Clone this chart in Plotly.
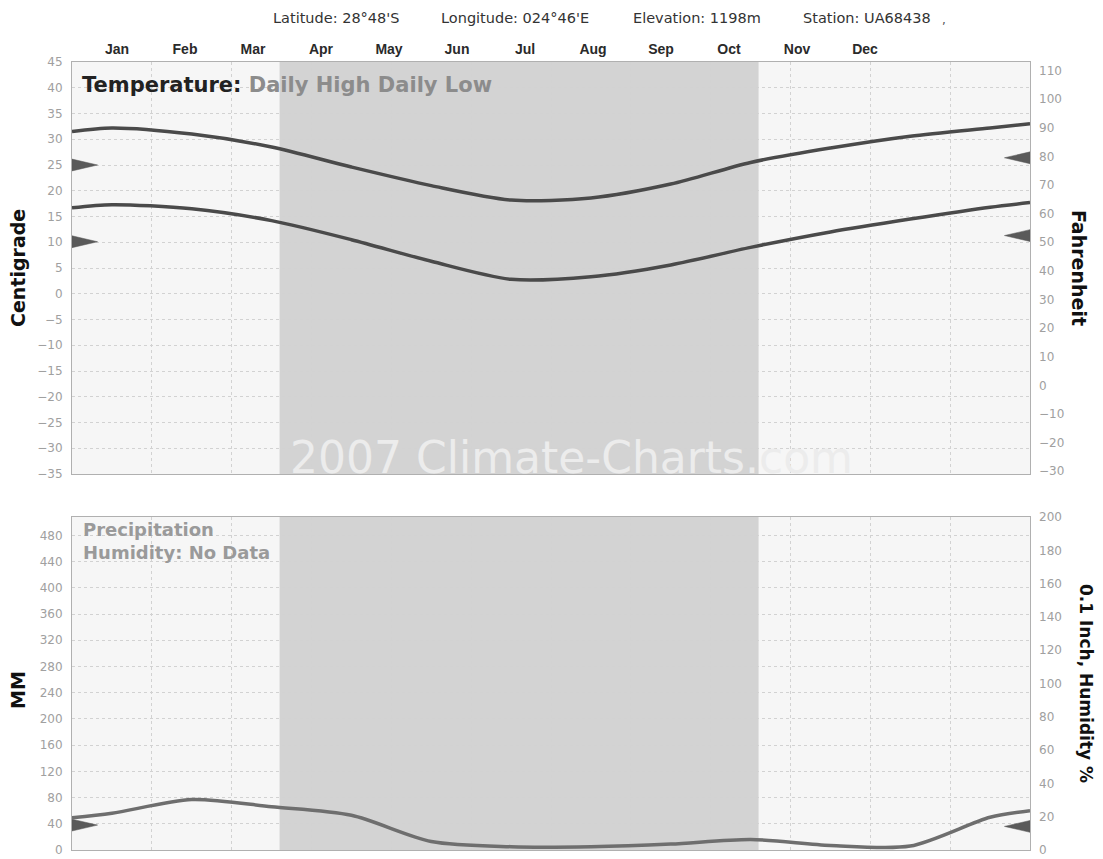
import plotly.graph_objects as go

# ---------------- data ----------------
months = ["Jan", "Feb", "Mar", "Apr", "May", "Jun", "Jul", "Aug", "Sep", "Oct", "Nov", "Dec"]
high_c = [32.2, 31.0, 28.5, 24.6, 21.0, 18.2, 18.6, 21.3, 25.5, 28.3, 30.6, 32.2]
low_c = [17.3, 16.5, 14.2, 10.5, 6.3, 2.8, 3.3, 5.6, 9.0, 12.0, 14.5, 16.8]
precip_mm = [56, 77, 66, 53, 13, 5, 5, 9, 16, 7, 6, 50]
high_edges = [31.5, 33.0]      # values at the left / right frame edge
low_edges = [16.7, 17.7]
precip_edges = [49, 60]
left_marks_c = [25.0, 10.1]     # wedges on the left frame (top panel)
right_marks_c = [26.4, 11.3]    # wedges on the right frame (top panel)
left_mark_mm = [38]
right_mark_mm = [36]
winter_band = [2.6, 8.6]        # shaded season, in months
c_ticks = list(range(-35, 46, 5))
f_ticks = list(range(-30, 111, 10))
mm_ticks = list(range(0, 481, 40))
in_ticks = list(range(0, 201, 20))
header = ["Latitude: 28°48'S", "Longitude: 024°46'E", "Elevation: 1198m", "Station: UA68438"]

# ---------------- geometry (screen pixels, page has an 8px body margin) ----------------
OFF = 8
W, H = 1103 - OFF, 859 - OFF
L, R = 72 - OFF, 1030 - OFF
def py(p):
    return 1 - (p - OFF) / H
def px(p):
    return (p - OFF - L) / (R - L)

top_dom = [py(474), py(62)]
bot_dom = [py(850), py(517)]

xc = [0] + [i + 0.5 for i in range(12)] + [12]
high = [high_edges[0]] + high_c + [high_edges[1]]
low = [low_edges[0]] + low_c + [low_edges[1]]
prec = [precip_edges[0]] + precip_mm + [precip_edges[1]]

LINE = "#4a4a4a"
fig = go.Figure()

fig.add_trace(go.Scatter(x=xc, y=high, mode="lines", line=dict(color=LINE, width=3.5, shape="spline", smoothing=0.8),
                         xaxis="x", yaxis="y", hoverinfo="skip", showlegend=False))
fig.add_trace(go.Scatter(x=xc, y=low, mode="lines", line=dict(color=LINE, width=3.5, shape="spline", smoothing=0.8),
                         xaxis="x", yaxis="y", hoverinfo="skip", showlegend=False))
fig.add_trace(go.Scatter(x=xc, y=prec, mode="lines", line=dict(color="#6e6e6e", width=3.5, shape="spline", smoothing=0.8),
                         xaxis="x2", yaxis="y3", hoverinfo="skip", showlegend=False))

# dummy traces so the overlay axes exist
fig.add_trace(go.Scatter(x=xc, y=[v * 9 / 5 + 32 for v in high], mode="lines", opacity=0,
                         xaxis="x", yaxis="y2", hoverinfo="skip", showlegend=False))
fig.add_trace(go.Scatter(x=list(range(12)), y=high_c, mode="lines", opacity=0,
                         xaxis="x3", yaxis="y", hoverinfo="skip", showlegend=False))
fig.add_trace(go.Scatter(x=xc, y=[v / 2.54 for v in prec], mode="lines", opacity=0,
                         xaxis="x2", yaxis="y4", hoverinfo="skip", showlegend=False))

# wedge markers on the frame edges
def wedge(v, half, w, side, xa, ya):
    if side == "left":
        xs = [0, w, 0, 0]
    else:
        xs = [12, 12 - w, 12, 12]
    ys = [v + half, v, v - half, v + half]
    fig.add_trace(go.Scatter(x=xs, y=ys, mode="lines", fill="toself", fillcolor="#5a5a5a",
                             line=dict(color="#5a5a5a", width=0.5), xaxis=xa, yaxis=ya,
                             hoverinfo="skip", showlegend=False))

for v in left_marks_c:
    wedge(v, 1.15, 0.32, "left", "x", "y")
for v in right_marks_c:
    wedge(v, 1.15, 0.32, "right", "x", "y")
for v in left_mark_mm:
    wedge(v, 9, 0.32, "left", "x2", "y3")
for v in right_mark_mm:
    wedge(v, 9, 0.32, "right", "x2", "y3")

GRID = "#d2d2d2"
TICKFONT = dict(family="DejaVu Sans", size=12, color="#a0a0a0")
xgrid = dict(range=[0, 12], tickvals=list(range(13)), showticklabels=False, showgrid=True,
             gridcolor=GRID, griddash="dot", gridwidth=1, zeroline=False, automargin=False,
             showline=True, linecolor="#b0b0b0", mirror=True, ticks="")

lab0 = (L - (117 - OFF)) / 68.0
fig.update_layout(
    template="none",
    width=W, height=H,
    margin=dict(l=L, r=W - R, t=0, b=0, autoexpand=False),
    paper_bgcolor="white", plot_bgcolor="#f6f6f6",
    xaxis=dict(domain=[0, 1], anchor="y", **xgrid),
    xaxis2=dict(domain=[0, 1], anchor="y3", **xgrid),
    xaxis3=dict(overlaying="x", side="top", anchor="y", automargin=False,
                range=[lab0, lab0 + (R - L) / 68.0],
                tickvals=list(range(12)), ticktext=months, showgrid=False, zeroline=False,
                showline=False, ticks="", ticklabelstandoff=4,
                tickfont=dict(family="Liberation Sans", size=14, color="#2a2a2a", weight="bold")),
    yaxis=dict(domain=top_dom, anchor="x", range=[-35, 45], tickvals=c_ticks, automargin=False,
               showgrid=True, gridcolor=GRID, griddash="dot", zeroline=False,
               showline=True, linecolor="#b0b0b0", mirror=True, ticks="",
               ticklabelstandoff=6, tickfont=TICKFONT),
    yaxis2=dict(overlaying="y", side="right", anchor="x", range=[-31, 113], tickvals=f_ticks,
                automargin=False, showline=False,
                showgrid=False, zeroline=False, ticks="", ticklabelstandoff=8, tickfont=TICKFONT),
    yaxis3=dict(domain=bot_dom, anchor="x2", range=[0, 508], tickvals=mm_ticks, automargin=False,
                showgrid=True, gridcolor=GRID, griddash="dot", zeroline=False,
                showline=True, linecolor="#b0b0b0", mirror=True, ticks="",
                ticklabelstandoff=6, tickfont=TICKFONT),
    yaxis4=dict(overlaying="y3", side="right", anchor="x2", range=[0, 200], tickvals=in_ticks,
                automargin=False, showline=False,
                showgrid=False, zeroline=False, ticks="", ticklabelstandoff=8, tickfont=TICKFONT),
)

# seasonal shading
for ya in ["y", "y3"]:
    xa = "x" if ya == "y" else "x2"
    fig.add_shape(type="rect", xref=xa, yref=f"{ya} domain", x0=winter_band[0], x1=winter_band[1],
                  y0=0, y1=1, fillcolor="#d3d3d3", line=dict(width=0), layer="below")

def ann(text, sx, sy, size, color, bold=False, angle=0, xanchor="center", family="DejaVu Sans"):
    fig.add_annotation(text=text, xref="paper", yref="paper",
                       x=px(sx), y=py(sy), xanchor=xanchor, yanchor="middle",
                       showarrow=False, textangle=angle,
                       font=dict(family=family, size=size, color=color, weight="bold" if bold else "normal"))

for txt, cx in zip(header, [336, 515, 697, 867]):
    ann(txt, cx, 18, 14.5, "#333333")
ann(",", 944, 20, 12, "#555555")
ann("<b>Temperature: <span style='color:#8c8c8c'>Daily High Daily Low</span></b>", 80, 85, 21, "#222222", xanchor="left")
ann("<b>Precipitation</b>", 81, 529, 18, "#9a9a9a", xanchor="left")
ann("<b>Humidity: No Data</b>", 81, 552, 18, "#9a9a9a", xanchor="left")
ann("2007 Climate-Charts.com", 571, 457, 44, "#ececec")
ann("Centigrade", 18, 268, 19, "#111111", bold=True, angle=-90)
ann("Fahrenheit", 1079, 268, 19, "#111111", bold=True, angle=90)
ann("MM", 18, 690, 19, "#111111", bold=True, angle=-90)
ann("0.1 Inch, Humidity %", 1086, 683, 17, "#111111", bold=True, angle=90)

fig.write_html("out.html")
